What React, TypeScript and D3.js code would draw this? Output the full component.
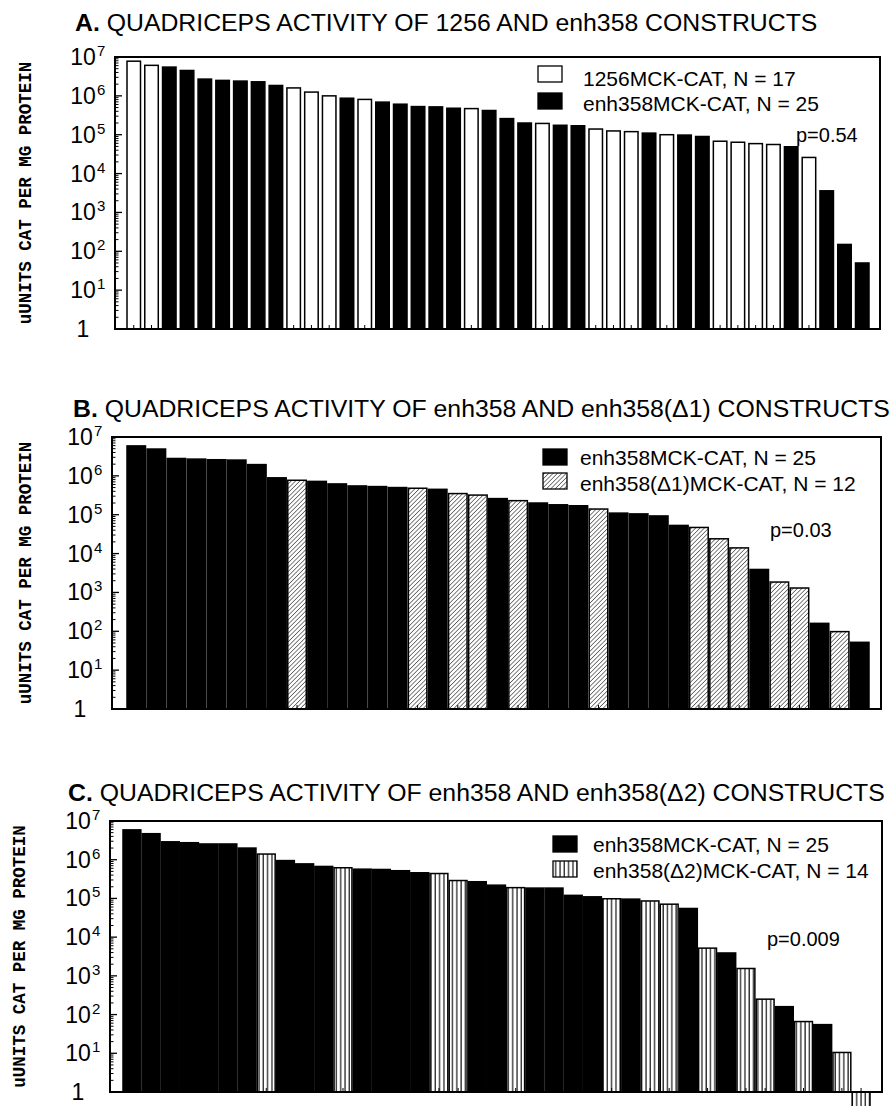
import React, {useEffect, useRef} from 'react';
import * as d3 from 'd3';

// ---- panel A: 1256 vs enh358 ----
const aSeries = ['1256MCK-CAT, N = 17', 'enh358MCK-CAT, N = 25'];
const aFills = ['white', 'black'];
const aGroups = [0, 0, 1, 1, 1, 1, 1, 1, 1, 0, 0, 0, 1, 0, 1, 1, 1, 1, 1, 0, 1, 1, 1, 0, 1, 1, 0, 0, 0, 1, 0, 1, 1, 0, 0, 0, 0, 1, 0, 1, 1, 1];
const aValues = [
  7.8e6, 6.1e6, 5.5e6, 4.5e6, 2.7e6, 2.5e6, 2.4e6, 2.3e6, 1.85e6, 1.6e6,
  1.25e6, 1.0e6, 8.7e5, 8.1e5, 6.9e5, 6.1e5, 5.3e5, 5.2e5, 4.8e5, 4.7e5,
  4.2e5, 2.6e5, 2.0e5, 1.95e5, 1.75e5, 1.7e5, 1.4e5, 1.25e5, 1.2e5, 1.1e5,
  1.0e5, 9.8e4, 9.0e4, 6.8e4, 6.4e4, 5.9e4, 5.6e4, 4.9e4, 2.6e4, 3.6e3,
  150, 50
];

// ---- panel B: enh358 vs enh358(Δ1) ----
const bSeries = ['enh358MCK-CAT, N = 25', 'enh358(Δ1)MCK-CAT, N = 12'];
const bFills = ['black', 'url(#hatch)'];
const bGroups = [0, 0, 0, 0, 0, 0, 0, 0, 1, 0, 0, 0, 0, 0, 1, 0, 1, 1, 0, 1, 0, 0, 0, 1, 0, 0, 0, 0, 1, 1, 1, 0, 1, 1, 0, 1, 0];
const bValues = [
  5.9e6, 4.9e6, 2.8e6, 2.7e6, 2.6e6, 2.55e6, 1.95e6, 8.9e5, 7.7e5, 7.2e5,
  6.2e5, 5.5e5, 5.3e5, 5.0e5, 4.8e5, 4.5e5, 3.5e5, 3.2e5, 2.6e5, 2.3e5,
  2.0e5, 1.8e5, 1.7e5, 1.4e5, 1.1e5, 1.05e5, 9.3e4, 5.3e4, 4.7e4, 2.4e4,
  1.4e4, 3.9e3, 1.85e3, 1.3e3, 160, 98, 52
];

// ---- panel C: enh358 vs enh358(Δ2) ----
const cSeries = ['enh358MCK-CAT, N = 25', 'enh358(Δ2)MCK-CAT, N = 14'];
const cFills = ['black', 'url(#stripe)'];
const cGroups = [0, 0, 0, 0, 0, 0, 0, 1, 0, 0, 0, 1, 0, 0, 0, 0, 1, 1, 0, 0, 1, 0, 0, 0, 0, 1, 0, 1, 1, 0, 1, 0, 1, 1, 0, 1, 0, 1, 1];
const cValues = [
  5.9e6, 4.7e6, 2.9e6, 2.75e6, 2.55e6, 2.55e6, 2.0e6, 1.4e6, 9.5e5, 7.8e5,
  6.7e5, 6.2e5, 5.7e5, 5.6e5, 5.2e5, 4.6e5, 4.4e5, 2.9e5, 2.7e5, 2.2e5,
  1.9e5, 1.85e5, 1.85e5, 1.2e5, 1.1e5, 9.8e4, 9.6e4, 8.6e4, 7.1e4, 5.5e4,
  5.2e3, 3.9e3, 1.55e3, 250, 160, 66, 55, 10.5, 0.3
];

const yExponents = [0, 1, 2, 3, 4, 5, 6, 7];
const yLabel = 'uUNITS CAT PER MG PROTEIN';

const panels = [
  {
    letter: 'A.', title: ' QUADRICEPS ACTIVITY OF 1256 AND enh358 CONSTRUCTS', p: 'p=0.54',
    series: aSeries, fills: aFills, groups: aGroups, values: aValues,
    frame: {left: 115, right: 880, top: 57, bottom: 329},
    bars: {x0: 127, x1: 869, pad: 0.24},
    titlePos: [75, 31], yLabelX: 26,
    legend: {x: 538, y: [66, 93], tx: 583, ty: [86, 111]},
    pPos: [796, 142]
  },
  {
    letter: 'B.', title: ' QUADRICEPS ACTIVITY OF enh358 AND enh358(Δ1) CONSTRUCTS', p: 'p=0.03',
    series: bSeries, fills: bFills, groups: bGroups, values: bValues,
    frame: {left: 112, right: 881, top: 437, bottom: 709},
    bars: {x0: 127, x1: 869, pad: 0.08},
    titlePos: [73, 417], yLabelX: 26,
    legend: {x: 543, y: [449, 473], tx: 580, ty: [465, 491]},
    pPos: [770, 537]
  },
  {
    letter: 'C.', title: ' QUADRICEPS ACTIVITY OF enh358 AND enh358(Δ2) CONSTRUCTS', p: 'p=0.009',
    series: cSeries, fills: cFills, groups: cGroups, values: cValues,
    frame: {left: 110, right: 882, top: 821, bottom: 1092},
    bars: {x0: 123, x1: 870, pad: 0.07},
    titlePos: [68, 801], yLabelX: 20,
    legend: {x: 553, y: [836, 861], tx: 593, ty: [852, 878]},
    pPos: [767, 946]
  }
];

const sans = 'Liberation Sans, Arial, sans-serif';

export default function App() {
  const ref = useRef<SVGSVGElement>(null);

  useEffect(() => {
    const svg = d3.select(ref.current);
    svg.selectAll('*').remove();

    const defs = svg.append('defs');
    const hatch = defs.append('pattern')
        .attr('id', 'hatch')
        .attr('patternUnits', 'userSpaceOnUse')
        .attr('width', 3.1).attr('height', 3.1)
        .attr('patternTransform', 'rotate(45)');
    hatch.append('rect').attr('width', 3.1).attr('height', 3.1).attr('fill', 'white');
    hatch.append('line').attr('x1', 0).attr('y1', 0).attr('x2', 0).attr('y2', 3.1)
        .attr('stroke', 'black').attr('stroke-width', 1);

    const stripe = defs.append('pattern')
        .attr('id', 'stripe')
        .attr('patternUnits', 'userSpaceOnUse')
        .attr('width', 4.3).attr('height', 10);
    stripe.append('rect').attr('width', 4.3).attr('height', 10).attr('fill', 'white');
    stripe.append('line').attr('x1', 1).attr('y1', 0).attr('x2', 1).attr('y2', 10)
        .attr('stroke', 'black').attr('stroke-width', 1.1);

    panels.forEach(pn => {
      const g = svg.append('g');
      const {left, right, top, bottom} = pn.frame;

      const x = d3.scaleBand<number>()
          .domain(d3.range(pn.values.length))
          .range([pn.bars.x0, pn.bars.x1])
          .paddingInner(pn.bars.pad)
          .paddingOuter(0);

      const y = d3.scaleLog()
          .domain([1, 1e7])
          .range([bottom, top]);

      // title
      const t = g.append('text')
          .attr('x', pn.titlePos[0])
          .attr('y', pn.titlePos[1])
          .style('font-family', sans)
          .style('font-size', '24.8px');
      t.append('tspan').attr('font-weight', 'bold').text(pn.letter);
      t.append('tspan').text(pn.title);

      // bars
      g.selectAll('.bar')
          .data(pn.values)
          .enter().append('rect')
          .attr('class', 'bar')
          .attr('x', (d, i) => x(i)!)
          .attr('y', d => Math.min(y(d), y(1)))
          .attr('width', x.bandwidth())
          .attr('height', d => Math.abs(y(1) - y(d)))
          .attr('fill', (d, i) => pn.fills[pn.groups[i]])
          .attr('stroke', 'black')
          .attr('stroke-width', 1.5);

      // x ticks at bar centres, inside the frame
      g.selectAll('.xtick')
          .data(pn.values)
          .enter().append('line')
          .attr('x1', (d, i) => x(i)! + x.bandwidth() / 2)
          .attr('x2', (d, i) => x(i)! + x.bandwidth() / 2)
          .attr('y1', bottom)
          .attr('y2', bottom - 4)
          .attr('stroke', 'black')
          .attr('stroke-width', 1);

      // y ticks, major and minor
      const minor: number[] = [];
      yExponents.slice(0, -1).forEach(k => {
        for (let m = 2; m <= 9; m++) minor.push(m * Math.pow(10, k));
      });
      g.selectAll('.ymin')
          .data(minor)
          .enter().append('line')
          .attr('x1', left).attr('x2', left + 3.5)
          .attr('y1', d => y(d)).attr('y2', d => y(d))
          .attr('stroke', 'black').attr('stroke-width', 1);
      g.selectAll('.ymaj')
          .data(yExponents)
          .enter().append('line')
          .attr('x1', left).attr('x2', left + 7)
          .attr('y1', d => y(Math.pow(10, d))).attr('y2', d => y(Math.pow(10, d)))
          .attr('stroke', 'black').attr('stroke-width', 1.3);

      // y tick labels
      const lab = g.selectAll('.ylab')
          .data(yExponents)
          .enter().append('g')
          .attr('transform', d => `translate(${left - 32},${y(Math.pow(10, d))})`);
      lab.append('text')
          .attr('text-anchor', 'middle')
          .attr('y', 8)
          .style('font-family', sans)
          .style('font-size', '23px')
          .text(d => (d === 0 ? '1' : '10'));
      lab.filter(d => d > 0).append('text')
          .attr('x', 14)
          .attr('y', -1)
          .style('font-family', sans)
          .style('font-size', '15px')
          .text(d => String(d));

      // y axis title
      g.append('text')
          .attr('transform', `translate(${pn.yLabelX},${(top + bottom) / 2}) rotate(-90)`)
          .attr('text-anchor', 'middle')
          .attr('dominant-baseline', 'central')
          .style('font-family', 'Liberation Mono, Courier New, monospace')
          .style('font-weight', 'bold')
          .style('font-size', '17.5px')
          .text(yLabel);

      // frame
      g.append('rect')
          .attr('x', left).attr('y', top)
          .attr('width', right - left).attr('height', bottom - top)
          .attr('fill', 'none')
          .attr('stroke', 'black')
          .attr('stroke-width', 2);

      // legend
      pn.series.forEach((s, i) => {
        g.append('rect')
            .attr('x', pn.legend.x).attr('y', pn.legend.y[i])
            .attr('width', 24).attr('height', 16)
            .attr('fill', pn.fills[i])
            .attr('stroke', 'black').attr('stroke-width', 1.3);
        g.append('text')
            .attr('x', pn.legend.tx).attr('y', pn.legend.ty[i])
            .style('font-family', sans)
            .style('font-size', '21px')
            .text(s);
      });

      g.append('text')
          .attr('x', pn.pPos[0]).attr('y', pn.pPos[1])
          .style('font-family', sans)
          .style('font-size', '20px')
          .text(pn.p);
    });
  }, []);

  return (
    <svg ref={ref} width={893} height={1106}
         style={{position: 'absolute', left: 0, top: 0, background: 'white'}}></svg>
  );
}
